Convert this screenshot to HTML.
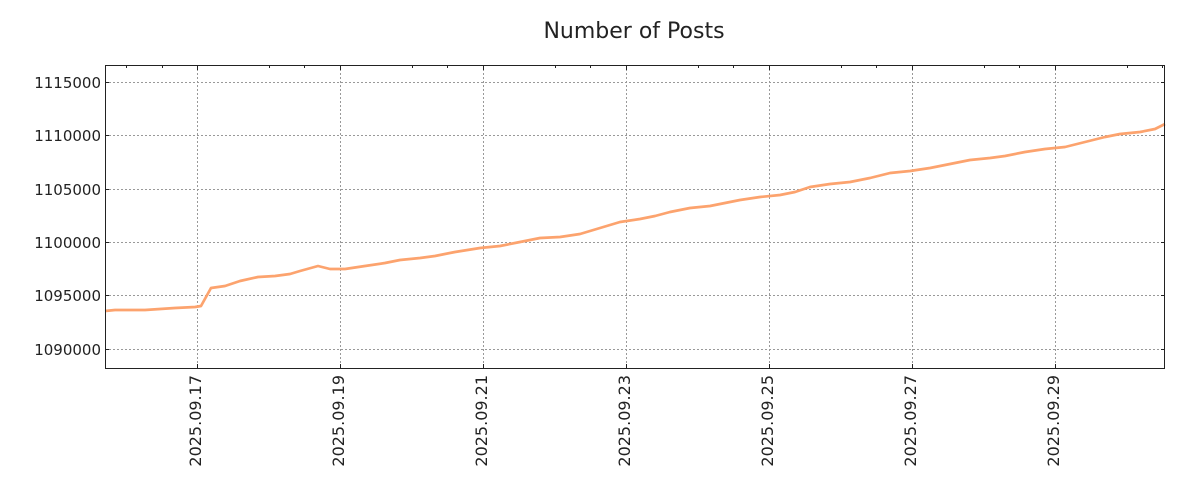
<!DOCTYPE html>
<html><head><meta charset="utf-8"><style>body{margin:0;background:#fff}svg{display:block}text{font-family:"DejaVu Sans","Liberation Sans",sans-serif;fill:#222}</style></head>
<body>
<svg width="1200" height="500" xmlns="http://www.w3.org/2000/svg">
<text x="634" y="38" font-size="22" text-anchor="middle">Number of Posts</text>
<g stroke="#999" stroke-dasharray="2,2" stroke-width="1">
<line x1="105" x2="1165" y1="82.5" y2="82.5"/><line x1="105" x2="1165" y1="135.5" y2="135.5"/><line x1="105" x2="1165" y1="189.5" y2="189.5"/><line x1="105" x2="1165" y1="242.5" y2="242.5"/><line x1="105" x2="1165" y1="295.5" y2="295.5"/><line x1="105" x2="1165" y1="349.5" y2="349.5"/>
<line y1="65" y2="369" x1="197.5" x2="197.5"/><line y1="65" y2="369" x1="340.5" x2="340.5"/><line y1="65" y2="369" x1="483.5" x2="483.5"/><line y1="65" y2="369" x1="626.5" x2="626.5"/><line y1="65" y2="369" x1="769.5" x2="769.5"/><line y1="65" y2="369" x1="912.5" x2="912.5"/><line y1="65" y2="369" x1="1055.5" x2="1055.5"/>
</g>
<polyline fill="none" stroke="#fca36e" stroke-width="2.7" stroke-linejoin="round" points="105,311 115,310 145,310 160,309 175,308 195,307 201,306 211,288 225,286 240,281 258,277 275,276 290,274 300,271 318,266 330,269 345,269 365,266 385,263 400,260 420,258 435,256 455,252 480,248 500,246 520,242 540,238 560,237 580,234 600,228 620,222 640,219 655,216 670,212 690,208 710,206 725,203 740,200 760,197 780,195 795,192 810,187 830,184 850,182 870,178 890,173 910,171 930,168 950,164 970,160 990,158 1005,156 1025,152 1045,149 1065,147 1085,142 1105,137 1120,134 1140,132 1155,129 1165,124"/>
<rect x="105.5" y="65.5" width="1059" height="303" fill="none" stroke="#222" stroke-width="1"/>
<g stroke="#222" stroke-width="1">
<path d="M105,82.5h4M105,135.5h4M105,189.5h4M105,242.5h4M105,295.5h4M105,349.5h4M1165,82.5h-4M1165,135.5h-4M1165,189.5h-4M1165,242.5h-4M1165,295.5h-4M1165,349.5h-4"/>
<path d="M197.5,65v5M340.5,65v5M483.5,65v5M626.5,65v5M769.5,65v5M912.5,65v5M1055.5,65v5M197.5,369v-5M340.5,369v-5M483.5,369v-5M626.5,369v-5M769.5,369v-5M912.5,369v-5M1055.5,369v-5"/>
<path d="M126.5,65v3M162.5,65v3M269.5,65v3M304.5,65v3M412.5,65v3M447.5,65v3M555.5,65v3M590.5,65v3M698.5,65v3M733.5,65v3M841.5,65v3M876.5,65v3M984.5,65v3M1019.5,65v3M1127.5,65v3M1162.5,65v3"/>
</g>
<g font-size="15" text-anchor="end">
<text x="101" y="88">1115000</text><text x="101" y="141">1110000</text><text x="101" y="195">1105000</text><text x="101" y="248">1100000</text><text x="101" y="301">1095000</text><text x="101" y="355">1090000</text>
</g>
<g font-size="16" text-anchor="end">
<text transform="translate(201,375) rotate(-90)">2025.09.17</text>
<text transform="translate(344,375) rotate(-90)">2025.09.19</text>
<text transform="translate(487,375) rotate(-90)">2025.09.21</text>
<text transform="translate(630,375) rotate(-90)">2025.09.23</text>
<text transform="translate(773,375) rotate(-90)">2025.09.25</text>
<text transform="translate(916,375) rotate(-90)">2025.09.27</text>
<text transform="translate(1059,375) rotate(-90)">2025.09.29</text>
</g>
</svg>
</body></html>
